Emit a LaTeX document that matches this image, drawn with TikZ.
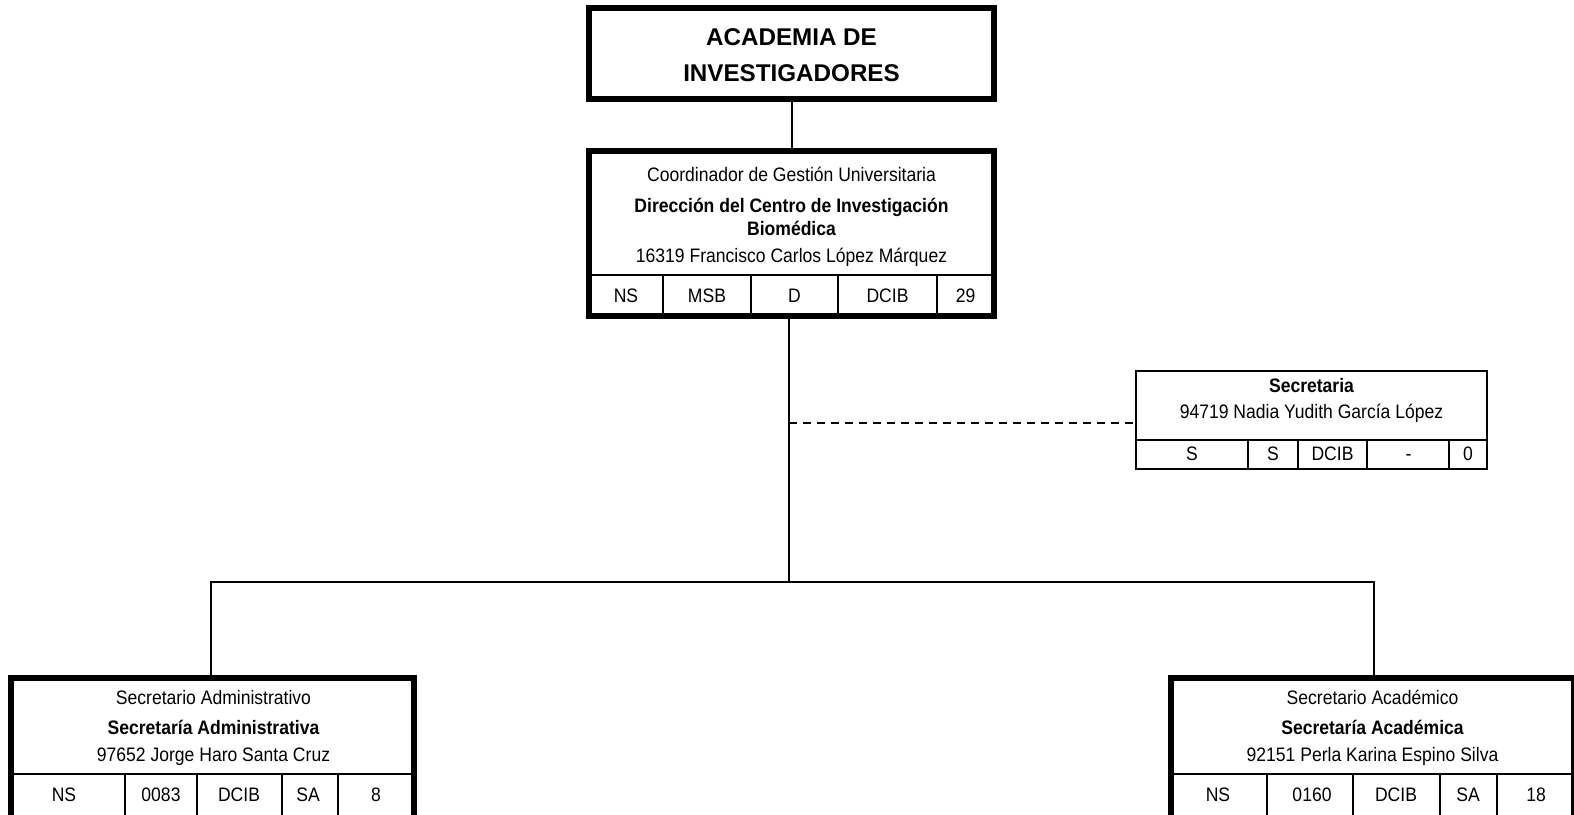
\documentclass[tikz,border=0pt]{standalone}
\usepackage{fontspec}
\setmainfont{Liberation Sans}[FakeStretch=0.9]
\newfontfamily\titlefont{Liberation Sans}[FakeStretch=1.0]
\tikzset{
  box/.style={draw, line width=6pt, inner sep=0pt, outer sep=0pt},
  thinbox/.style={draw, line width=2pt, inner sep=0pt, outer sep=0pt},
  txt/.style={anchor=base, inner sep=0pt, font=\fontsize{19.5}{23}\selectfont},
  btxt/.style={anchor=base, inner sep=0pt, font=\fontsize{19.5}{23}\selectfont\bfseries},
  ttl/.style={anchor=base, inner sep=0pt, font=\titlefont\fontsize{24.2}{28}\selectfont\bfseries},
  conn/.style={line width=2pt},
  rule/.style={line width=1.8pt},
}
\begin{document}
\begin{tikzpicture}[x=1pt,y=-1pt]
\useasboundingbox (0,0) rectangle (1574,814);
\clip (0,0) rectangle (1574,814);
\fill[white] (0,0) rectangle (1574,814);
% top box
\node[box, minimum width=405pt, minimum height=91pt] (acad) at (791.5,53.5) {};
\node[ttl] (acadt1) at (791.5,45.5) {ACADEMIA DE};
\node[ttl] (acadt2) at (791.5,81.5) {INVESTIGADORES};
% direction box
\node[box, minimum width=405pt, minimum height=165pt] (dir) at (791.5,233.5) {};
\node[txt] (dirt1) at (791.5,181) {Coordinador de Gestión Universitaria};
\node[btxt] (dirt2) at (791.5,212) {Dirección del Centro de Investigación};
\node[btxt] (dirt3) at (791.5,235.5) {Biomédica};
\node[txt] (dirt4) at (791.5,262.5) {16319 Francisco Carlos López Márquez};
\draw[rule] (dir.west |- 0,275) -- (dir.east |- 0,275);
\foreach \x in {663,751,838,937} \draw[rule] (\x,275) -- (\x,316);
\foreach \x/\t [count=\i] in {626/NS,707/MSB,794.5/D,887.5/DCIB,965.5/29}
  \node[txt] (dirc\i) at (\x,302.5) {\t};
% secretaria box
\node[thinbox, minimum width=351pt, minimum height=98pt] (sec) at (1311.5,420) {};
\node[btxt] (sect1) at (1311.5,392.5) {Secretaria};
\node[txt] (sect2) at (1311.5,418.5) {94719 Nadia Yudith García López};
\draw[rule] (sec.west |- 0,440) -- (sec.east |- 0,440);
\foreach \x in {1248,1298,1367,1449} \draw[rule] (\x,440) -- (\x,470);
\foreach \x/\t [count=\i] in {1192/S,1273/S,1332.5/DCIB,1408.5/-,1468/0}
  \node[txt] (secc\i) at (\x,460.5) {\t};
% bottom-left box
\node[box, minimum width=403pt, minimum height=142pt] (adm) at (212.5,749) {};
\node[txt] (admt1) at (213.5,704) {Secretario Administrativo};
\node[btxt] (admt2) at (213.5,734) {Secretaría Administrativa};
\node[txt] (admt3) at (213.5,761) {97652 Jorge Haro Santa Cruz};
\draw[rule] (adm.west |- 0,774) -- (adm.east |- 0,774);
\foreach \x in {125,197,282,338} \draw[rule] (\x,774) -- (\x,820);
\foreach \x/\t [count=\i] in {64/NS,161/0083,239/DCIB,308/SA,376/8}
  \node[txt] (admc\i) at (\x,801) {\t};
% bottom-right box
\node[box, minimum width=403pt, minimum height=142pt] (aca) at (1372.5,749) {};
\node[txt] (acat1) at (1372.5,704) {Secretario Académico};
\node[btxt] (acat2) at (1372.5,734) {Secretaría Académica};
\node[txt] (acat3) at (1372.5,761) {92151 Perla Karina Espino Silva};
\draw[rule] (aca.west |- 0,774) -- (aca.east |- 0,774);
\foreach \x in {1267,1353,1440,1497} \draw[rule] (\x,774) -- (\x,820);
\foreach \x/\t [count=\i] in {1218/NS,1312/0160,1396/DCIB,1468/SA,1536/18}
  \node[txt] (acac\i) at (\x,801) {\t};
% connectors
\coordinate (jn) at (789,582);
\coordinate (dsh) at (789,423);
\draw[conn] (acad.south) -- (dir.north);
\draw[conn] (jn |- dir.south) -- (jn);
\draw[conn] (adm.north -| 211,0) -- (211,582) -- (1374,582) -- (aca.north -| 1374,0);
\draw[conn, dash pattern=on 8pt off 6pt] (dsh) -- (sec.west |- dsh);
\end{tikzpicture}
\end{document}
